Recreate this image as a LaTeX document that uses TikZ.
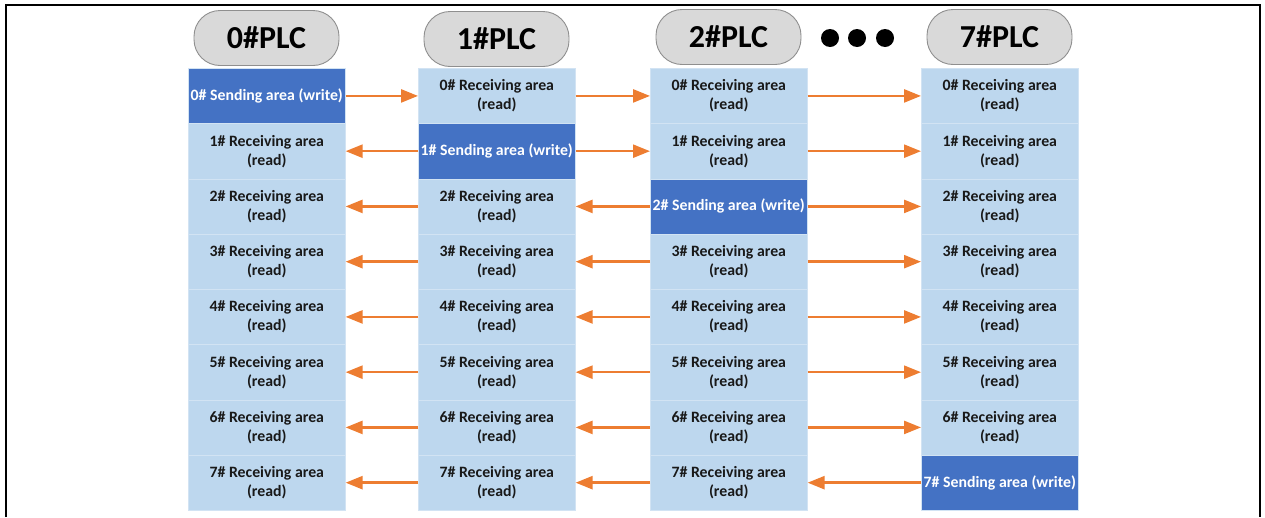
\documentclass[tikz,border=0pt]{standalone}
\usepackage{fontspec}
\setmainfont{Carlito}
\usetikzlibrary{arrows.meta}
\definecolor{cellblue}{HTML}{BDD7EE}
\definecolor{sendblue}{HTML}{4472C4}
\definecolor{arrowor}{HTML}{ED7D31}
\definecolor{ovalgray}{HTML}{D9D9D9}
\definecolor{ovalline}{HTML}{8F8F8F}
\definecolor{sepline}{HTML}{D2E3F3}
\begin{document}
\begin{tikzpicture}[x=1pt,y=-1pt,
 cellbox/.style={rectangle, minimum width=157pt, minimum height=55.25pt, inner sep=0pt, anchor=north west, align=center, font=\bfseries\fontsize{15.8}{19}\selectfont, draw=sepline, line width=0.6pt},
 recvbox/.style={cellbox, fill=cellblue, text=black!90},
 sendbox/.style={cellbox, fill=sendblue, text=white},
 plcoval/.style={rectangle, rounded corners=26pt, minimum width=145pt, minimum height=55pt, fill=ovalgray, draw=ovalline, line width=0.9pt, font=\bfseries\fontsize{32}{32}\selectfont},
 flow/.style={draw=arrowor, line width=2.5pt, -{Triangle[length=17pt,width=13pt]}},
 dotmark/.style={circle, fill=black, minimum size=18pt, inner sep=0pt}
]
\useasboundingbox (0,0) rectangle (1265,517);
\draw[line width=2pt] (6,517) -- (6,5) -- (1260,5) -- (1260,517);
% PLC headers
\node[plcoval] (p0) at (266.5,38) {0\#PLC};
\node[plcoval] (p1) at (496.5,39) {1\#PLC};
\node[plcoval] (p2) at (728.5,37) {2\#PLC};
\node[plcoval] (p7) at (999.5,37) {7\#PLC};
\node[dotmark] (d1) at (830,38) {};
\node[dotmark] (d2) at (857,38) {};
\node[dotmark] (d3) at (885,38) {};
% cells
\foreach \c/\x/\s in {0/188/0,1/418/1,2/650/2,3/921/7} {
  \foreach \r in {0,...,7} {
    \ifnum\r=\s
      \node[sendbox] (c\c r\r) at (\x,{68+55.25*\r}) {\r\# Sending area (write)};
    \else
      \node[recvbox] (c\c r\r) at (\x,{68+55.25*\r}) {\r\# Receiving area\\(read)};
    \fi
  }
}
% arrows
\foreach \r in {0,...,7} {
  \ifnum\r<1
    \draw[flow] (c0r\r.east) -- (c1r\r.west);
  \else
    \draw[flow] (c1r\r.west) -- (c0r\r.east);
  \fi
  \ifnum\r<2
    \draw[flow] (c1r\r.east) -- (c2r\r.west);
  \else
    \draw[flow] (c2r\r.west) -- (c1r\r.east);
  \fi
  \ifnum\r<7
    \draw[flow] (c2r\r.east) -- (c3r\r.west);
  \else
    \draw[flow] (c3r\r.west) -- (c2r\r.east);
  \fi
}
\end{tikzpicture}
\end{document}
